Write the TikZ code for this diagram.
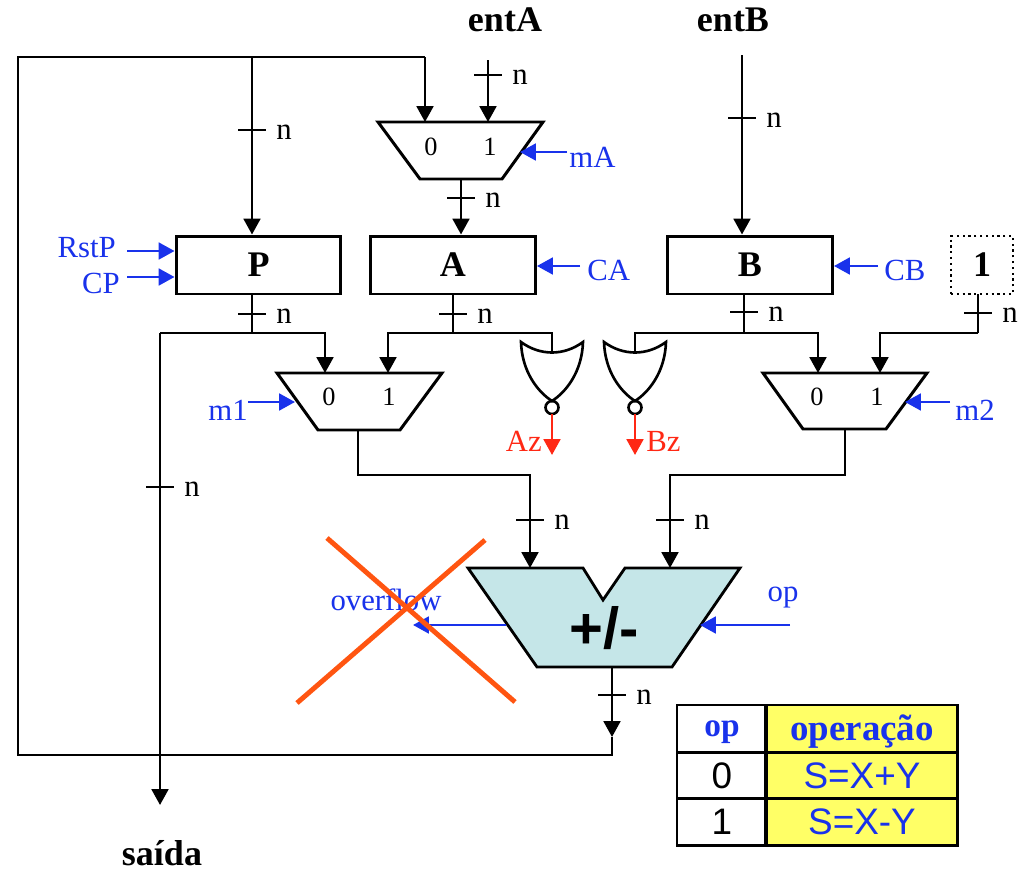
\documentclass[tikz,border=0pt]{standalone}
\usepackage{fontspec}
\setmainfont{Liberation Serif}
\newfontfamily\arialf{Liberation Sans}
\usetikzlibrary{arrows.meta}
\definecolor{ublue}{RGB}{25,50,235}
\definecolor{ured}{RGB}{255,40,20}
\definecolor{uorange}{RGB}{255,85,17}
\definecolor{alufill}{RGB}{197,230,232}
\definecolor{tyellow}{RGB}{255,255,102}
\newcommand\busmark[3]{%
  \draw[wire] (#2-14,#3) -- (#2+14,#3);
  \node[lbl,anchor=west] (#1) at (#2+24,#3+2) {n};}
\newcommand\norgate[2]{%
  \draw[gate] (#2-31,342) .. controls (#2-12,356) and (#2+12,356) .. (#2+31,342)
     .. controls (#2+30,372) and (#2+14,392) .. (#2,401)
     .. controls (#2-14,392) and (#2-30,372) .. cycle;
  \draw[gate] (#2,407.5) circle[radius=0.13cm];
  \coordinate (#1in) at (#2,353);
  \coordinate (#1out) at (#2,414);}
\begin{document}
\begin{tikzpicture}[x=0.02cm,y=-0.02cm,
  wire/.style={line width=1.5pt,black},
  arr/.style={wire,-{Triangle[length=9pt,width=9.5pt]}},
  ctl/.style={line width=1.5pt,ublue,-{Triangle[length=9pt,width=9.5pt]}},
  zout/.style={line width=1.5pt,ured,-{Triangle[length=9pt,width=9.5pt]}},
  gate/.style={line width=1.5pt,black},
  muxs/.style={line width=1.7pt,black},
  reg/.style={draw,line width=1.7pt,minimum width=3.3cm,minimum height=1.16cm,inner sep=0,
     font=\fontsize{20.5}{22}\selectfont\bfseries},
  lbl/.style={font=\fontsize{17.5}{20}\selectfont,inner sep=0},
  blbl/.style={lbl,text=ublue},
  rlbl/.style={lbl,text=ured},
  ttl/.style={font=\fontsize{20.5}{22}\selectfont\bfseries,inner sep=0},
  dig/.style={font=\fontsize{15}{17}\selectfont,inner sep=0},
  tcell/.style={inner sep=0,font=\arialf\fontsize{21}{24}\selectfont},
  thead/.style={inner sep=0,text=ublue,font=\fontsize{19}{22}\selectfont\bfseries},
]
\useasboundingbox (0,0) rectangle (1025,872);

% ---------- titles
\node[ttl] (entA) at (505,20) {entA};
\node[ttl] (entB) at (733,20) {entB};
\node[ttl] (saida) at (162,853) {saída};

% ---------- registers
\node[reg] (P) at (258.5,265) {P};
\node[reg] (A) at (453,265) {A};
\node[reg] (B) at (750,265) {B};
\node[draw,dotted,line width=1.3pt,minimum width=1.24cm,minimum height=1.16cm,inner sep=0,
  font=\fontsize{20.5}{22}\selectfont\bfseries] (one) at (982,265) {1};

% ---------- multiplexers
\draw[muxs] (378,122) -- (543,122) -- (502,179) -- (420,179) -- cycle;
\coordinate (mA0) at (425,122); \coordinate (mA1) at (488,122); \coordinate (mAo) at (461,179);
\node[dig] (mA0t) at (431,147) {0};
\node[dig] (mA1t) at (490,147) {1};

\draw[muxs] (277,373) -- (442,373) -- (400,430) -- (318,430) -- cycle;
\coordinate (m10) at (325,373); \coordinate (m11) at (388,373); \coordinate (m1o) at (358,430);
\node[dig] (m10t) at (329,397) {0};
\node[dig] (m11t) at (389,397) {1};

\draw[muxs] (763,373) -- (927,373) -- (886,429) -- (803,429) -- cycle;
\coordinate (m20) at (818,373); \coordinate (m21) at (880,373); \coordinate (m2o) at (845,429);
\node[dig] (m20t) at (817,397) {0};
\node[dig] (m21t) at (877,397) {1};

% ---------- NOR gates
\norgate{gA}{552}
\norgate{gB}{635}

% ---------- ALU
\draw[line width=1.6pt,fill=alufill] (468,568) -- (583,568) -- (603,600) -- (625,568) -- (740,568)
   -- (672,667) -- (537,667) -- cycle;
\coordinate (aluX) at (530,568); \coordinate (aluY) at (670,568); \coordinate (aluO) at (612,667);
\node[inner sep=0,font=\arialf\fontsize{33}{36}\selectfont\bfseries] (alut) at (604,628) {+/-};

% ---------- feedback and inputs
\coordinate (fbL) at (18,57); \coordinate (fbR) at (425,57); \coordinate (fbM) at (252,57);
\coordinate (fbB) at (18,755); \coordinate (aluE) at (612,755); \coordinate (aluT) at (612,737);
\draw[arr] (aluO) -- (aluT);
\draw[wire] (aluT) -- (aluE) -- (fbB) -- (fbL) -- (fbR);
\draw[arr] (fbR) -- (mA0);
\draw[arr] (fbM) -- (fbM |- P.north);
\busmark{nfb}{252}{130}
\busmark{nout}{612}{695}

\coordinate (eA) at (488,60);
\draw[arr] (eA) -- (mA1);
\busmark{nentA}{488}{75}
\draw[arr] (mAo) -- (mAo |- A.north);
\busmark{nmA}{461}{198}

\coordinate (eB) at (742,55);
\draw[arr] (eB) -- (eB |- B.north);
\busmark{nentB}{742}{118}

% P output
\coordinate (Pb) at (252,333); \coordinate (Pl) at (160,333); \coordinate (Ps) at (160,805);
\draw[wire] (252,294) -- (Pb);
\draw[arr] (Pl) -- (325,333) -- (m10);
\draw[arr] (Pl) -- (Ps);
\busmark{nP}{252}{314}
\busmark{nS}{160}{487}

% A output
\coordinate (Ab) at (453,333);
\draw[wire] (453,294) -- (Ab);
\draw[arr] (Ab) -- (388,333) -- (m11);
\draw[wire] (Ab) -- (552,333) -- (gAin);
\busmark{nA}{453}{314}

% B output
\coordinate (Bb) at (744,333);
\draw[wire] (744,294) -- (Bb);
\draw[arr] (Bb) -- (818,333) -- (m20);
\draw[wire] (Bb) -- (635,333) -- (gBin);
\busmark{nB}{744}{312}

% constant 1
\coordinate (ob) at (978,333);
\draw[wire] (978,294) -- (ob);
\draw[arr] (ob) -- (880,333) -- (m21);
\busmark{none}{978}{313}

% mux outputs to ALU
\draw[arr] (m1o) -- (358,475) -- (530,475) -- (aluX);
\draw[arr] (m2o) -- (845,475) -- (670,475) -- (aluY);
\busmark{nX}{530}{520}
\busmark{nY}{670}{520}

% zero flags
\coordinate (AzE) at (552,455); \coordinate (BzE) at (635,455);
\draw[zout] (gAout) -- (AzE);
\draw[zout] (gBout) -- (BzE);
\node[rlbl,anchor=east] (Az) at (542,441) {Az};
\node[rlbl,anchor=west] (Bz) at (646,441) {Bz};

% ---------- control signals
\coordinate (cmA) at (567,152);
\draw[ctl] (cmA) -- (520,152);
\node[blbl,anchor=west] (mAl) at (569,157) {mA};

\coordinate (cRst) at (127,251); \coordinate (cCP) at (127,277);
\draw[ctl] (cRst) -- (cRst -| P.west);
\draw[ctl] (cCP) -- (cCP -| P.west);
\node[blbl,anchor=east] (RstP) at (116,248) {RstP};
\node[blbl,anchor=east] (CP) at (120,283) {CP};

\coordinate (cCA) at (580,266);
\draw[ctl] (cCA) -- (cCA -| A.east);
\node[blbl,anchor=west] (CA) at (587,270) {CA};
\coordinate (cCB) at (878,266);
\draw[ctl] (cCB) -- (cCB -| B.east);
\node[blbl,anchor=west] (CB) at (884,270) {CB};

\coordinate (cm1) at (248,402);
\draw[ctl] (cm1) -- (295,402);
\node[blbl] (m1l) at (228,410) {m1};
\coordinate (cm2) at (950,402);
\draw[ctl] (cm2) -- (905,402);
\node[blbl] (m2l) at (975,410) {m2};

\coordinate (ovS) at (506,625); \coordinate (ovE) at (413,625);
\draw[ctl] (ovS) -- (ovE);
\node[blbl] (ovl) at (386,600) {overflow};
\coordinate (opS) at (790,625);
\draw[ctl] (opS) -- (700,625);
\node[blbl] (opl) at (783,598) {op};

% cross over overflow
\draw[uorange,line width=2.8pt] (327,538) -- (515,702);
\draw[uorange,line width=2.8pt] (485,540) -- (297,703);

% ---------- table
\fill[tyellow] (766,705) rectangle (957,845);
\draw[line width=1.7pt] (677,705) rectangle (957,845);
\draw[line width=1.7pt] (677,752) -- (957,752);
\draw[line width=1.7pt] (677,798) -- (957,798);
\draw[line width=2.4pt] (766,705) -- (766,845);
\node[thead] (th1) at (722,732) {op};
\node[thead,font=\fontsize{21}{24}\selectfont\bfseries] (th2) at (862,732) {operação};
\node[tcell] (c10) at (722,776) {0};
\node[tcell,text=ublue] (c11) at (862,776) {S=X+Y};
\node[tcell] (c20) at (722,822) {1};
\node[tcell,text=ublue] (c21) at (862,822) {S=X-Y};
\end{tikzpicture}
\end{document}
